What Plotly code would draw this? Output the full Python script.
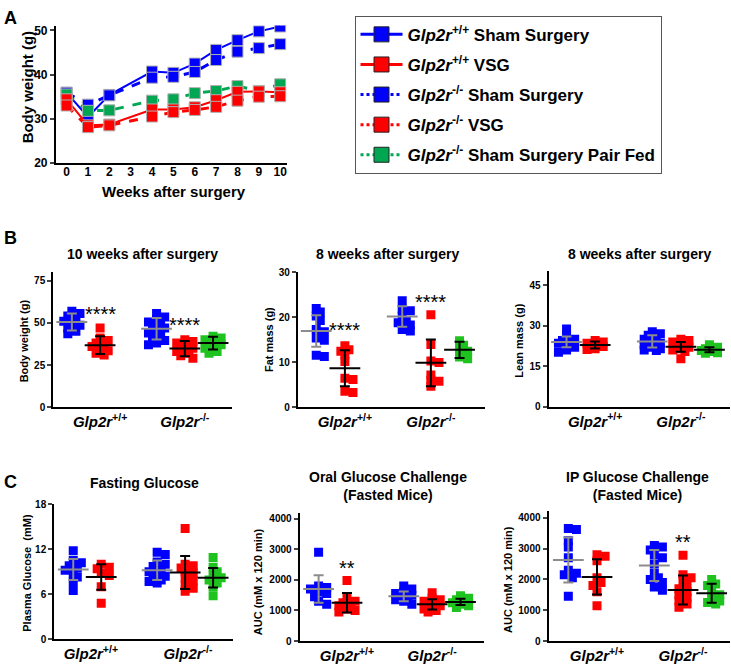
import plotly.graph_objects as go

W, H = 731, 670
FONT = "Liberation Sans, Arial, sans-serif"

# ---------------- Panel A data ----------------
weeks = [0, 1, 2, 4, 5, 6, 7, 8, 9, 10]
a_wt_sham = [35.9, 30.4, 35.4, 40.7, 40.4, 42.5, 45.6, 47.8, 49.8, 50.9]
a_wt_vsg = [34.4, 28.5, 28.7, 32.1, 32.1, 32.6, 34.2, 36.1, 36.2, 36.0]
a_ko_sham = [35.9, 33.2, 35.3, 39.3, 39.5, 40.6, 43.3, 45.2, 46.0, 46.9]
a_ko_vsg = [33.0, 28.1, 28.5, 30.5, 31.5, 32.0, 32.7, 34.1, 35.0, 35.1]
a_ko_pf = [35.5, 31.8, 31.9, 34.1, 34.4, 35.8, 36.3, 37.4, 36.3, 37.8]
legend_labels = [
    "<i>Glp2r</i><sup>+/+</sup> Sham Surgery",
    "<i>Glp2r</i><sup>+/+</sup> VSG",
    "<i>Glp2r</i><sup>-/-</sup> Sham Surgery",
    "<i>Glp2r</i><sup>-/-</sup> VSG",
    "<i>Glp2r</i><sup>-/-</sup> Sham Surgery Pair Fed",
]

# ---------------- Panel B data ----------------
bw_wt_sham = [56.8, 55.5, 54.0, 52.5, 51.0, 50.0, 48.5, 47.0, 45.0, 43.5]
bw_wt_vsg = [47.0, 41.0, 39.5, 38.0, 37.0, 36.0, 35.0, 33.5, 32.0, 31.0]
bw_ko_sham = [55.5, 53.5, 52.0, 50.5, 49.5, 48.0, 47.0, 45.5, 44.0, 42.5, 41.0, 39.5, 38.0, 37.0]
bw_ko_vsg = [40.0, 39.0, 38.0, 37.0, 36.0, 35.0, 34.0, 33.0, 32.0, 30.5, 29.0]
bw_ko_pf = [42.0, 41.0, 40.0, 39.0, 38.0, 37.0, 36.0, 35.0, 33.0, 32.0]
bw_mean = [50.5, 36.8, 46.5, 34.8, 38.0]
bw_sd = [5.0, 5.2, 6.3, 4.5, 3.8]

fm_wt_sham = [22.0, 21.2, 20.3, 19.3, 17.3, 16.8, 15.4, 14.9, 11.6, 11.3]
fm_wt_vsg = [13.7, 12.8, 12.5, 11.7, 10.2, 6.5, 6.2, 3.6, 3.3]
fm_ko_sham = [23.7, 21.8, 21.5, 20.3, 19.2, 18.8, 18.3, 17.3, 17.0]
fm_ko_vsg = [20.6, 14.0, 10.3, 10.0, 7.2, 6.0, 5.8, 4.7]
fm_ko_pf = [14.8, 13.8, 13.0, 12.5, 11.2, 10.8]
fm_mean = [17.0, 8.7, 20.2, 9.9, 12.8]
fm_sd = [3.5, 4.0, 2.3, 5.2, 1.8]

lm_wt_sham = [28.8, 26.0, 25.0, 24.5, 24.0, 23.5, 23.0, 22.0, 21.0, 20.2]
lm_wt_vsg = [24.5, 24.0, 23.5, 23.0, 22.8, 22.3, 21.5, 21.2]
lm_ko_sham = [27.8, 27.0, 26.5, 25.5, 25.0, 24.0, 23.5, 23.0, 22.0, 21.5, 21.0, 20.8]
lm_ko_vsg = [25.0, 24.5, 24.0, 23.5, 22.5, 22.0, 21.5, 21.0, 20.5, 17.8]
lm_ko_pf = [23.0, 22.0, 21.5, 21.0, 20.8, 20.5, 20.0, 19.8]
lm_mean = [24.0, 22.9, 24.2, 22.2, 21.1]
lm_sd = [2.0, 1.3, 2.3, 1.8, 0.9]

# ---------------- Panel C data ----------------
fg_wt_sham = [11.8, 10.5, 10.2, 9.8, 9.5, 9.2, 8.8, 8.3, 7.7, 6.5]
fg_wt_vsg = [10.0, 9.6, 9.4, 8.8, 8.5, 7.0, 4.8]
fg_ko_sham = [11.6, 11.3, 10.3, 10.0, 9.7, 9.4, 9.0, 8.7, 8.4, 8.1, 7.9, 7.7, 7.5]
fg_ko_vsg = [14.8, 10.0, 9.8, 9.5, 9.0, 8.8, 8.2, 7.8, 7.2, 6.8, 6.4]
fg_ko_pf = [10.9, 9.6, 9.0, 8.5, 8.2, 7.9, 7.5, 7.0, 5.8]
fg_mean = [9.3, 8.3, 9.2, 8.9, 8.2]
fg_sd = [1.4, 1.7, 1.3, 2.2, 1.3]

og_wt_sham = [2900, 1800, 1750, 1700, 1600, 1550, 1450, 1300, 1200]
og_wt_vsg = [1980, 1400, 1300, 1250, 1200, 1150, 1050, 1000, 950]
og_ko_sham = [1800, 1700, 1600, 1550, 1500, 1450, 1400, 1350, 1300, 1200]
og_ko_vsg = [1580, 1400, 1350, 1300, 1250, 1200, 1150, 1100, 1050, 1000, 950]
og_ko_pf = [1480, 1400, 1350, 1300, 1250, 1200, 1150, 1100]
og_mean = [1700, 1250, 1460, 1200, 1280]
og_sd = [450, 320, 160, 170, 100]

ip_wt_sham = [3650, 3620, 3250, 3050, 2700, 2300, 2200, 2150, 2050, 1450]
ip_wt_vsg = [2800, 2750, 2600, 2050, 1900, 1800, 1600, 1150]
ip_ko_sham = [3100, 3050, 2950, 2800, 2700, 2500, 2200, 2050, 2000, 1900, 1750, 1650]
ip_ko_vsg = [2780, 2150, 2050, 1950, 1800, 1700, 1600, 1500, 1400, 1300, 1200, 1100]
ip_ko_pf = [2000, 1850, 1800, 1600, 1500, 1400, 1300, 1250, 1200]
ip_mean = [2630, 2080, 2450, 1660, 1550]
ip_sd = [730, 570, 500, 470, 310]

group_pos = [0, 1, 3, 4, 5]
cat_labels = ["<i>Glp2r</i><sup>+/+</sup>", "<i>Glp2r</i><sup>-/-</sup>"]

BLUE, RED = "#0000ff", "#ff0000"
GREEN_A, GREEN_B = "#00a651", "#1fc31f"
GRAY = "#8c8c8c"


def px2x(px):
    return px / W


def py2y(py):
    return 1 - py / H


fig = go.Figure()

# ---------------- Panel A ----------------
a_series = [
    (a_wt_sham, BLUE, "solid", 2),
    (a_ko_sham, BLUE, "dash", 3),
    (a_ko_pf, GREEN_A, "dash", 3),
    (a_wt_vsg, RED, "solid", 2),
    (a_ko_vsg, RED, "dash", 3),
]
for vals, col, dash, lw in a_series:
    fig.add_trace(go.Scatter(
        x=weeks, y=vals, mode="lines+markers", showlegend=False,
        line=dict(color=col, dash=dash, width=lw),
        marker=dict(symbol="square", size=11, color=col, line=dict(color="#b0b0b0", width=1)),
        xaxis="x", yaxis="y", hoverinfo="skip"))

leg_styles = [(BLUE, "solid"), (RED, "solid"), (BLUE, "dot"), (RED, "dot"), (GREEN_A, "dot")]
for i, (lab, (col, dash)) in enumerate(zip(legend_labels, leg_styles)):
    fig.add_trace(go.Scatter(
        x=[None], y=[None], mode="lines+markers", name=lab, legendgroup=f"g{i}",
        line=dict(color=col, dash=dash, width=3),
        marker=dict(symbol="square", size=15, color=col, line=dict(color="#222", width=1)),
        xaxis="x", yaxis="y"))

layout = dict(
    width=W, height=H, margin=dict(l=0, r=0, t=0, b=0),
    paper_bgcolor="white", plot_bgcolor="white",
    font=dict(family=FONT, color="black"),
    showlegend=True,
    legend=dict(x=px2x(355), y=py2y(10), xanchor="left", yanchor="top",
                bordercolor="#555", borderwidth=1, bgcolor="white",
                font=dict(size=17, family=FONT, weight="bold"),
                tracegroupgap=5, itemwidth=42),
)

axis_common = dict(showgrid=False, zeroline=False, showline=True, linecolor="black",
                   linewidth=2)
layout["xaxis"] = dict(axis_common, domain=[px2x(56), px2x(287)], range=[-0.5, 10.3],
                       tickvals=list(range(0, 11)), ticks="", ticklabelstandoff=-3,
                       tickfont=dict(size=12, weight="bold"), anchor="y")
layout["yaxis"] = dict(axis_common, domain=[py2y(160), py2y(20)], range=[20, 51.1],
                       tickvals=[20, 30, 40, 50], ticks="outside", ticklen=4, tickwidth=1.5,
                       tickfont=dict(size=12, weight="bold"), anchor="x")

annotations = []


def ann(text, px, py, size, bold=True, angle=0, xanchor="center"):
    t = f"<b>{text}</b>" if bold else text
    annotations.append(dict(text=t, x=px2x(px), y=py2y(py), xref="paper", yref="paper",
                            showarrow=False, textangle=angle, xanchor=xanchor, yanchor="middle",
                            font=dict(size=size, family=FONT, color="black")))


ann("A", 2, 12, 18, xanchor="left")
ann("B", 2, 237, 18, xanchor="left")
ann("C", 2, 485, 18, xanchor="left")
ann("Body weight (g)", 27, 82, 15, angle=-90)
ann("Weeks after surgery", 174, 189, 15)

# ---------------- Dot plots ----------------
panels = [
    dict(groups=[bw_wt_sham, bw_wt_vsg, bw_ko_sham, bw_ko_vsg, bw_ko_pf], mean=bw_mean, sd=bw_sd,
         xd=(53.3, 232), yd=(409.3, 271.7), yr=[0, 79.8], yt=[0, 25, 50, 75], xr=[-0.66, 5.66],
         lab=[1, 4], title="10 weeks after surgery", tpos=(143, 253),
         ytitle="Body weight (g)", ytpos=(24, 341),
         stars=[("****", 1, 55.3), ("****", 4, 48.5)]),
    dict(groups=[fm_wt_sham, fm_wt_vsg, fm_ko_sham, fm_ko_vsg, fm_ko_pf], mean=fm_mean, sd=fm_sd,
         xd=(298.3, 486), yd=(409.3, 271.7), yr=[0, 30], yt=[0, 10, 20, 30], xr=[-0.64, 5.9],
         lab=[1, 4], title="8 weeks after surgery", tpos=(388, 253),
         ytitle="Fat mass (g)", ytpos=(270, 340),
         stars=[("****", 1, 17.2), ("****", 4, 23.5)]),
    dict(groups=[lm_wt_sham, lm_wt_vsg, lm_ko_sham, lm_ko_vsg, lm_ko_pf], mean=lm_mean, sd=lm_sd,
         xd=(549.3, 731), yd=(408.7, 270.7), yr=[0, 50.1], yt=[0, 15, 30, 45], xr=[-0.63, 5.72],
         lab=[1, 4], title="8 weeks after surgery", tpos=(640, 253),
         ytitle="Lean mass (g)", ytpos=(520, 341), stars=[]),
    dict(groups=[fg_wt_sham, fg_wt_vsg, fg_ko_sham, fg_ko_vsg, fg_ko_pf], mean=fg_mean, sd=fg_sd,
         xd=(54.3, 233), yd=(645.7, 508.3), yr=[0, 18], yt=[0, 6, 12, 18], xr=[-0.68, 5.7],
         lab=[0.63, 4.1], title="Fasting Glucose", tpos=(145, 486),
         ytitle="Plasma Glucose  (mM)", ytpos=(27, 578), stars=[]),
    dict(groups=[og_wt_sham, og_wt_vsg, og_ko_sham, og_ko_vsg, og_ko_pf], mean=og_mean, sd=og_sd,
         xd=(300, 485), yd=(647.7, 516.7), yr=[0, 4190], yt=[0, 1000, 2000, 3000, 4000],
         xr=[-0.67, 5.84], lab=[1, 4], title="Oral Glucose Challenge<br>(Fasted Mice)",
         tpos=(389, 489), ytitle="AUC (mM x 120 min)", ytpos=(258, 587),
         stars=[("**", 1, 2380)]),
    dict(groups=[ip_wt_sham, ip_wt_vsg, ip_ko_sham, ip_ko_vsg, ip_ko_pf], mean=ip_mean, sd=ip_sd,
         xd=(549.3, 731), yd=(647.7, 515), yr=[0, 4215], yt=[0, 1000, 2000, 3000, 4000],
         xr=[-0.69, 5.64], lab=[1, 4], title="IP Glucose Challenge<br>(Fasted Mice)",
         tpos=(638, 489), ytitle="AUC (mM x 120 min)", ytpos=(508, 585),
         stars=[("**", 4, 3220)]),
]

colors = [BLUE, RED, BLUE, RED, GREEN_B]
ebar_colors = [GRAY, "black", GRAY, "black", "black"]
MS = 9


def swarm(vals, xscale, yscale, msize):
    n = len(vals)
    order = sorted(range(n), key=lambda i: -vals[i])
    placed = []
    offs = [0.0] * n
    step = msize * 0.45
    dmin = msize * 0.6
    for i in order:
        y = vals[i] * yscale
        best, bestd = 0.0, -1.0
        for k in [0, 1, -1, 2, -2]:
            x = k * step
            d = min([((x - qx) ** 2 + (y - qy) ** 2) ** 0.5 for qx, qy in placed] or [99])
            if d >= dmin:
                best = x
                break
            if d > bestd:
                best, bestd = x, d
        placed.append((best, y))
        offs[i] = best / xscale
    return offs


for n, p in enumerate(panels, start=2):
    xa, ya = f"x{n}", f"y{n}"
    xscale = (p["xd"][1] - p["xd"][0]) / (p["xr"][1] - p["xr"][0])
    yscale = (p["yd"][0] - p["yd"][1]) / (p["yr"][1] - p["yr"][0])
    for g, vals in enumerate(p["groups"]):
        offs = swarm(vals, xscale, yscale, MS)
        fig.add_trace(go.Scatter(
            x=[group_pos[g] + o for o in offs], y=vals, mode="markers", showlegend=False,
            marker=dict(symbol="square", size=MS, color=colors[g], line=dict(width=0)),
            xaxis=xa, yaxis=ya, hoverinfo="skip"))
    for g in range(5):
        fig.add_trace(go.Scatter(
            x=[group_pos[g]], y=[p["mean"][g]], mode="markers", showlegend=False,
            marker=dict(symbol="line-ew-open", size=22, color=ebar_colors[g],
                        line=dict(color=ebar_colors[g], width=2)),
            error_y=dict(type="data", array=[p["sd"][g]], color=ebar_colors[g],
                         thickness=2, width=5),
            xaxis=xa, yaxis=ya, hoverinfo="skip"))
    layout[f"xaxis{n}"] = dict(axis_common, domain=[px2x(p["xd"][0]), px2x(p["xd"][1])],
                               range=p["xr"], tickvals=p["lab"], ticktext=cat_labels,
                               ticks="", tickfont=dict(size=15, weight="bold"), anchor=ya)
    layout[f"yaxis{n}"] = dict(axis_common, domain=[py2y(p["yd"][0]), py2y(p["yd"][1])],
                               range=p["yr"], tickvals=p["yt"], ticks="outside", ticklen=4,
                               tickwidth=1.5, tickfont=dict(size=10, weight="bold"), anchor=xa)
    ann(p["title"], p["tpos"][0], p["tpos"][1], 14)
    ann(p["ytitle"], p["ytpos"][0], p["ytpos"][1], 11, angle=-90)
    for txt, sx, sy in p["stars"]:
        annotations.append(dict(text=txt, x=sx, y=sy, xref=xa, yref=ya, showarrow=False,
                                xanchor="center", yanchor="middle",
                                font=dict(size=20, family=FONT, color="black")))

layout["annotations"] = annotations
fig.update_layout(**layout)
fig.write_html("out.html", config={"displayModeBar": False},
               post_script="document.body.style.margin='0';document.body.style.padding='0';")
